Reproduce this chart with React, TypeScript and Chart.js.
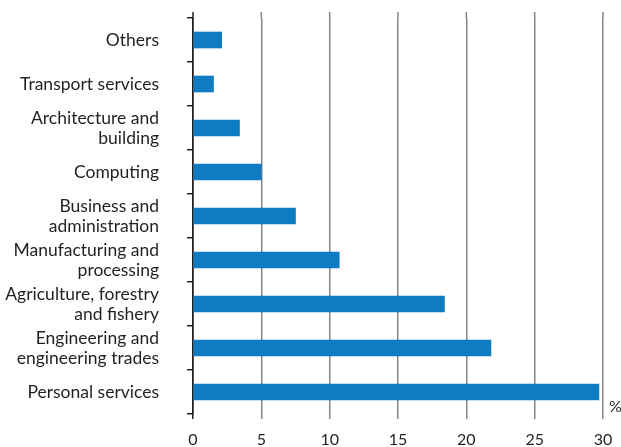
import React, { useEffect, useRef } from "react";
import { Chart, registerables } from "chart.js";

Chart.register(...registerables);

const categories: (string | string[])[] = [
  "Others",
  "Transport services",
  ["Architecture and", "building"],
  "Computing",
  ["Business and", "administration"],
  ["Manufacturing and", "processing"],
  ["Agriculture, forestry", "and fishery"],
  ["Engineering and", "engineering trades"],
  "Personal services",
];

const shares: number[] = [2.1, 1.5, 3.4, 5.0, 7.5, 10.7, 18.4, 21.8, 29.7];

const xTicks: number[] = [0, 5, 10, 15, 20, 25, 30];
const unitLabel = "%";

const TEXT = "#231f20";
const GRID = "#858585";
const BAR = "#0e7cc1";
const FONT = "Lato";

const extrasPlugin = {
  id: "extras",
  afterDraw(chart: any) {
    const { ctx, chartArea, scales } = chart;
    const x = scales.x;
    ctx.save();
    xTicks.forEach((v, i) => {
      const px = x.getPixelForValue(v);
      ctx.beginPath();
      ctx.lineWidth = 1.5;
      ctx.strokeStyle = i === 0 ? TEXT : GRID;
      ctx.moveTo(px, chartArea.top - 6);
      ctx.lineTo(px, chartArea.top);
      ctx.stroke();
    });
    ctx.fillStyle = TEXT;
    ctx.font = `16px ${FONT}`;
    ctx.textAlign = "left";
    ctx.textBaseline = "middle";
    ctx.fillText(unitLabel, x.getPixelForValue(30) + 6, chartArea.bottom - 7);
    ctx.restore();
  },
};

export default function App() {
  const ref = useRef<HTMLCanvasElement>(null);
  useEffect(() => {
    document.body.style.margin = "0";
    const chart = new Chart(ref.current!, {
      type: "bar",
      data: {
        labels: categories,
        datasets: [
          {
            data: shares,
            backgroundColor: BAR,
            barThickness: 16,
          },
        ],
      },
      options: {
        indexAxis: "y",
        animation: false,
        responsive: false,
        layout: { padding: { top: 18, right: 18, left: 0, bottom: 0 } },
        plugins: { legend: { display: false }, tooltip: { enabled: false } },
        scales: {
          x: {
            min: 0,
            max: 30,
            afterBuildTicks: (s: any) => {
              s.ticks = xTicks.map((v) => ({ value: v }));
            },
            ticks: {
              color: TEXT,
              font: { family: FONT, size: 16 },
              padding: 11,
            },
            grid: {
              color: (c: any) => (c.index === 0 ? TEXT : GRID),
              lineWidth: 1.5,
              tickLength: 5,
              drawTicks: true,
            },
            border: { display: false },
            afterFit: (s: any) => {
              s.height = 33;
              s.paddingLeft = 0;
              s.paddingRight = 0;
            },
          },
          y: {
            ticks: {
              color: TEXT,
              font: { family: FONT, size: 17.5, lineHeight: 1.15 },
              padding: 28,
            },
            grid: {
              drawOnChartArea: false,
              drawTicks: true,
              tickLength: 6,
              color: TEXT,
              lineWidth: 1.5,
              offset: true,
            },
            border: { display: true, color: TEXT, width: 1.5 },
            afterFit: (s: any) => {
              s.width = 193;
              s.paddingTop = 0;
              s.paddingBottom = 0;
            },
          },
        },
      },
      plugins: [extrasPlugin],
    });
    return () => chart.destroy();
  }, []);
  return <canvas ref={ref} width={621} height={447} style={{ display: "block" }} />;
}
